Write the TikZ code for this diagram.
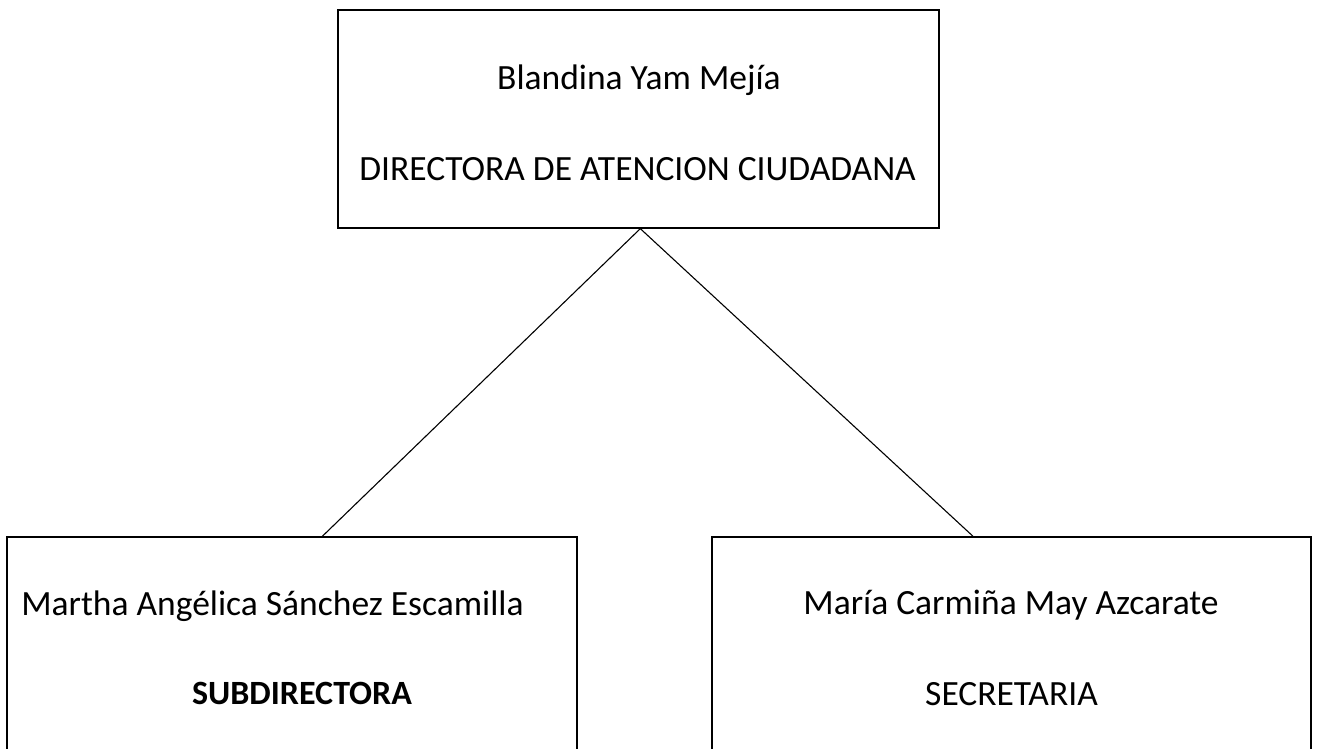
\documentclass[tikz,border=0pt]{standalone}
\usepackage{fontspec}
\setmainfont{Carlito}
\usetikzlibrary{calc}
\begin{document}
\begin{tikzpicture}[x=1pt,y=-1pt,
  box/.style={draw=black,line width=1.3pt,rectangle,inner sep=0pt},
  label/.style={font=\fontsize{35.5}{40}\selectfont,inner sep=0pt,anchor=base},
  boldlabel/.style={font=\fontsize{34}{38}\selectfont\bfseries,inner sep=0pt,anchor=base},
  conn/.style={draw=black,line width=1.1pt}]
\useasboundingbox (0,0) rectangle (1319,748);
\clip (0,0) rectangle (1319,748);
\fill[white] (0,0) rectangle (1319,748);
% boxes
\node[box,minimum width=601pt,minimum height=218pt] (top) at (638.5,119) {};
\node[box,minimum width=570pt,minimum height=240pt] (left) at (292,657) {};
\node[box,minimum width=599pt,minimum height=240pt] (right) at (1011.5,657) {};
% texts
\node[label] (t1) at (639,89) {Blandina Yam Mejía};
\node[label] (t2) at (637.5,180) {DIRECTORA DE ATENCION CIUDADANA};
\node[label] (l1) at (272.5,615) {Martha Angélica Sánchez Escamilla};
\node[boldlabel] (l2) at (302,704) {SUBDIRECTORA};
\node[label] (r1) at (1011,614) {María Carmiña May Azcarate};
\node[label] (r2) at (1011.5,705) {SECRETARIA};
% connector anchor points
\coordinate (ta) at ($(top.south west)!0.503!(top.south east)$);
\coordinate (la) at ($(left.north west)!0.553!(left.north east)$);
\coordinate (ra) at ($(right.north west)!0.436!(right.north east)$);
\draw[conn] (ta) -- (la);
\draw[conn] (ta) -- (ra);
\end{tikzpicture}
\end{document}
